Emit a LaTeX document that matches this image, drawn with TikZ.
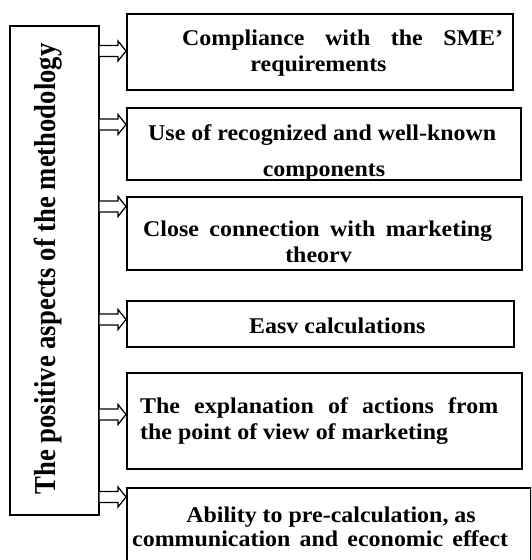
\documentclass[tikz,border=0pt]{standalone}
\usepackage{fontspec}
\setmainfont{Liberation Serif}
\newfontfamily\boxfont{Liberation Serif}[FakeStretch=1.064]
\newfontfamily\sidefont{Liberation Serif}[FakeStretch=0.877]
\usetikzlibrary{calc}
\begin{document}
\begin{tikzpicture}[x=1pt,y=-1pt,
  frame/.style={draw=black, line width=1.6pt, anchor=north west, inner sep=0pt},
  txt/.style={inner sep=0pt, font=\boxfont\bfseries\fontsize{22.5}{26}\selectfont},
  flow/.style={draw=black, line width=1.2pt, fill=white, line join=miter}]
\useasboundingbox (0,0) rectangle (531,560);
\clip (0,0) rectangle (531,560);

% left column and the six boxes
\node[frame, minimum width=89pt, minimum height=489pt] (side) at (9,25) {};
\node[frame, minimum width=386pt, minimum height=76pt] (b1) at (126,13) {};
\node[frame, minimum width=394pt, minimum height=72pt] (b2) at (126,107) {};
\node[frame, minimum width=395pt, minimum height=73pt] (b3) at (126,196) {};
\node[frame, minimum width=387pt, minimum height=46pt] (b4) at (126,300) {};
\node[frame, minimum width=395pt, minimum height=96pt] (b5) at (126,372) {};
\node[frame, minimum width=404pt, minimum height=90pt] (b6) at (126,487) {};

% vertical title
\node[rotate=90, inner sep=0pt, anchor=base,
      font=\sidefont\bfseries\fontsize{30.4}{34}\selectfont] (title) at (55.5,269)
      {The positive aspects of the methodology};

% block arrows from the column to each box
\newcommand\flowto[2]{%
  \path (side.east |- 0,#2) coordinate (s) (#1.west |- 0,#2) coordinate (t);
  \draw[flow] ($(s)+(0,-5.5)$) -- ($(t)+(-8,-5.5)$) -- ($(t)+(-8,-10)$) -- (t)
    -- ($(t)+(-8,10)$) -- ($(t)+(-8,5.5)$) -- ($(s)+(0,5.5)$);}
\flowto{b1}{51}
\flowto{b2}{124.5}
\flowto{b3}{206.5}
\flowto{b4}{319.5}
\flowto{b5}{414.5}
\flowto{b6}{497}

% box texts
\node[txt, anchor=base west] (t1a) at (182,45.7) {\makebox[321pt][s]{Compliance with the SME’}};
\node[txt, anchor=base] (t1b) at (318.5,71.7) {requirements};
\node[txt, anchor=base west] (t2a) at (148,140) {Use of recognized and well-known};
\begin{scope}
  \clip (126,107) rectangle (520,178);
  \node[txt, anchor=base] (t2b) at (324,176.7) {components};
\end{scope}
\node[txt, anchor=base west] (t3a) at (143,236) {\makebox[349pt][s]{Close connection with marketing}};
\node[txt, anchor=base] (t3b) at (318.5,262) {theorv};
\node[txt, anchor=base west] (t4) at (249,333) {Easv calculations};
\node[txt, anchor=base west] (t5a) at (140,413) {\makebox[358pt][s]{The explanation of actions from}};
\node[txt, anchor=base west] (t5b) at (140,439) {the point of view of marketing};
\node[txt, anchor=base] (t6a) at (331,522) {Ability to pre-calculation, as};
\node[txt, anchor=base west] (t6b) at (132,546) {\makebox[376pt][s]{communication and economic effect}};
\end{tikzpicture}
\end{document}
